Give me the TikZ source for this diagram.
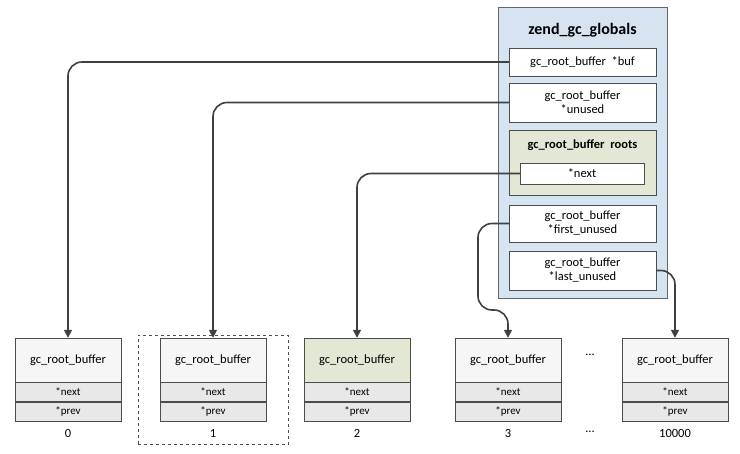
\documentclass[tikz,border=0pt]{standalone}
\usepackage{fontspec}
\setmainfont{Carlito}
\usetikzlibrary{arrows.meta,positioning,fit}
\definecolor{globfill}{RGB}{214,228,242}
\definecolor{rootfill}{RGB}{226,232,212}
\definecolor{cellfill}{RGB}{232,232,232}
\definecolor{linegray}{RGB}{64,64,64}

\begin{document}
\begin{tikzpicture}[x=1pt,y=-1pt, font=\fontsize{12.5}{14}\selectfont]
 \tikzset{
field/.style = {draw=black!70, fill=white, minimum width=147pt, align=center, inner sep=1pt},
header/.style = {draw=black!70, fill=cellfill!40, minimum width=106pt, minimum height=44pt},
cell/.style = {draw=black!70, fill=cellfill, minimum width=106pt, minimum height=19pt, inner sep=0pt, font=\fontsize{11}{12}\selectfont},
link/.style = {draw=linegray, line width=1.6pt, rounded corners=14pt, -{Triangle[length=8pt,width=8pt]}}}

    \useasboundingbox (0,0) rectangle (740,454);
    % globals structure
    \node [draw=black!60, fill=globfill, minimum width=169pt, minimum height=291pt, anchor=north west] (G) at (498,7) {};
    \node [font=\fontsize{16}{18}\selectfont\bfseries] (GT) at (582.5,30) {zend\_gc\_globals};
    \node [field, minimum height=28pt] (buf) at (582.5,62) {gc\_root\_buffer\ \ *buf};
    \node [field, minimum height=39pt] (unused) at (582.5,102.5) {gc\_root\_buffer\\*unused};
    \node [field, fill=rootfill, minimum height=65pt] (roots) at (582.5,162.5) {};
    \node [font=\fontsize{12.5}{14}\selectfont\bfseries] (RT) at (582.5,145) {gc\_root\_buffer\ \ roots};
    \node [field, minimum width=124pt, minimum height=21pt] (next) at (582,173.5) {*next};
    \node [field, minimum height=37pt] (first) at (582.5,223.5) {gc\_root\_buffer\\*first\_unused};
    \node [field, minimum height=39pt] (last) at (582.5,270.5) {gc\_root\_buffer\\*last\_unused};

    % buffer entries
    \foreach \i/\x/\lab in {0/68/0, 1/213/1, 2/357/2, 3/508/3, 4/675/10000} {
      \node [header] (h\i) at (\x,360) {gc\_root\_buffer};
      \node [cell, below=0pt of h\i] (n\i) {*next};
      \node [cell, below=0pt of n\i] (p\i) {*prev};
      \node [below=5pt of p\i] (l\i) {\lab};
    }
    \node [header, fill=rootfill] at (h2) {gc\_root\_buffer};
    \node [draw=black!70, dashed, fit=(h1)(l1), inner xsep=22pt, inner ysep=3pt] (win) {};
    \node (dots1) at (590,355) {...};
    \node (dots2) at (590,432) {...};

    % pointers
    \draw [link] (buf.west) -| (h0.north);
    \draw [link] (unused.west) -| (h1.north);
    \draw [link] (next.west) -| (h2.north);
    \coordinate (fd) at (478,310);
    \draw [link] (first.west) -| (fd) -| (h3.north);
    \draw [link] (last.east) -| (h4.north);
\end{tikzpicture}
\end{document}
